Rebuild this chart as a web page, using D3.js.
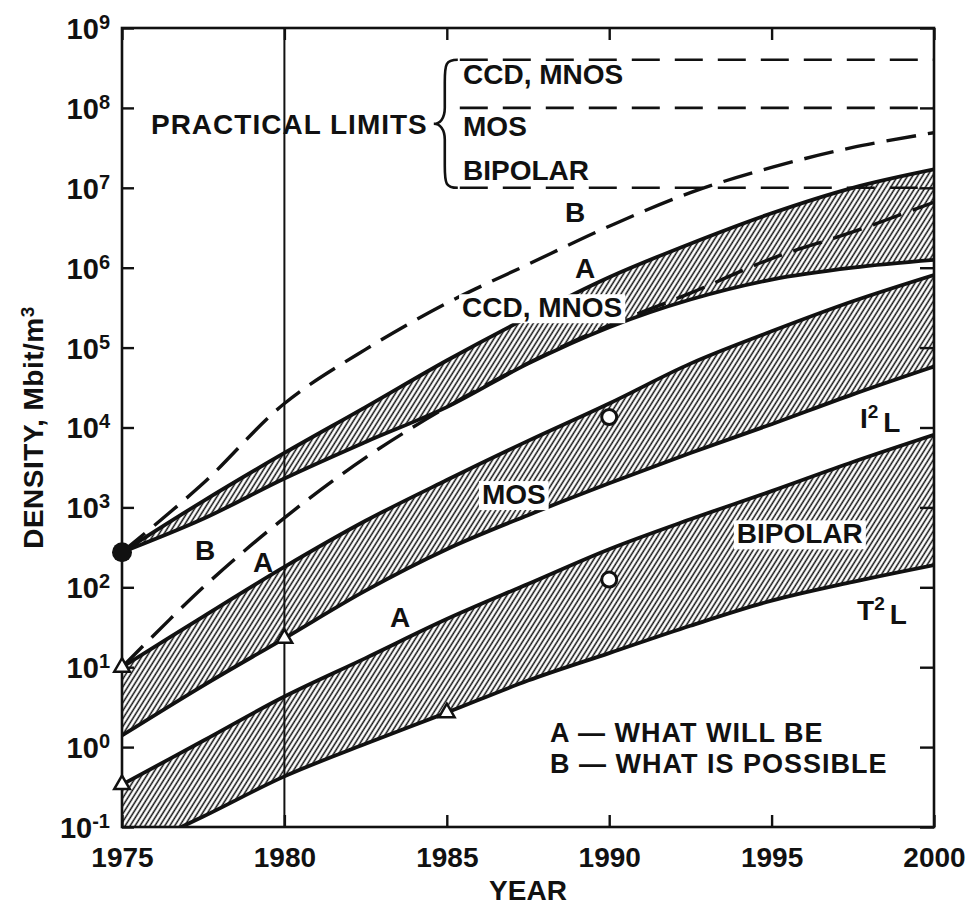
<!DOCTYPE html>
<html>
<head>
<meta charset="utf-8">
<script src="https://cdn.jsdelivr.net/npm/d3@7"></script>
<style>
  body { margin: 0; background: #fff; }
  text { font-family: "Liberation Sans", Arial, Helvetica, sans-serif; font-weight: bold; fill: #111; }
</style>
</head>
<body>
<script>
const years = [1975, 1977.5, 1980, 1982.5, 1985, 1987.5, 1990, 1992.5, 1995, 1997.5, 2000];

// CCD, MNOS band (A)
const ccdUpper = [275, 1.2e3, 4.8e3, 1.8e4, 6.9e4, 2.4e5, 7.6e5, 2.0e6, 4.8e6, 1.0e7, 1.7e7];
const ccdLower = [275, 720, 2.3e3, 6.6e3, 1.8e4, 6.3e4, 1.8e5, 4.0e5, 7.1e5, 1.0e6, 1.25e6];
// MOS band (A)
const mosUpper = [10, 43, 180, 680, 2.2e3, 6.8e3, 2.0e4, 6.3e4, 1.6e5, 3.8e5, 8.1e5];
const mosLower = [1.4, 5.9, 23, 91, 300, 800, 2.0e3, 4.8e3, 1.1e4, 2.6e4, 5.8e4];
// BIPOLAR band (A)
const bipUpper = [0.34, 1.2, 4.3, 13, 40, 110, 300, 710, 1.6e3, 3.7e3, 8.1e3];
const bipLower = [0.045, 0.135, 0.43, 1.1, 2.7, 6.8, 15, 33, 68, 117, 190];
// what is possible (B), dashed
const possibleCcd = [275, 2.0e3, 2.0e4, 9.5e4, 3.6e5, 1.1e6, 3.3e6, 8.7e6, 1.8e7, 3.2e7, 4.9e7];
const possibleMos = [10, 100, 740, 4.2e3, 1.8e4, 6.4e4, 1.9e5, 4.8e5, 1.3e6, 2.8e6, 6.6e6];

// practical limits (horizontal dashed lines)
const limitNames = ["CCD, MNOS", "MOS", "BIPOLAR"];
const limitValues = [4e8, 1e8, 1e7];
const limitsFrom = 1985.4;

// markers
const filledDots = [[1975, 275]];
const triangles = [[1975, 10], [1975, 0.34], [1980, 23], [1985, 2.7]];
const openCircles = [[1990, 1.35e4], [1990, 125]];

// axes
const xTicks = [1975, 1980, 1985, 1990, 1995, 2000];
const yTicks = [1e-1, 1e0, 1e1, 1e2, 1e3, 1e4, 1e5, 1e6, 1e7, 1e8, 1e9];
const yTickExp = ["-1", "0", "1", "2", "3", "4", "5", "6", "7", "8", "9"];

// text annotations: [text, superscript, rest, year, value, boxed]
const notes = [
  [limitNames[0], "", "", 1985.5, 2.0e8, false],
  [limitNames[1], "", "", 1985.5, 4.4e7, false],
  [limitNames[2], "", "", 1985.5, 1.26e7, false],
  ["B", "", "", 1988.64, 3.7e6, false],
  ["A", "", "", 1988.95, 7.4e5, false],
  ["CCD, MNOS", "", "", 1985.47, 2.4e5, true],
  ["MOS", "", "", 1986.08, 1.1e3, true],
  ["BIPOLAR", "", "", 1993.93, 355, true],
  ["I", "2", "L", 1997.72, 1e4, false],
  ["T", "2", "L", 1997.63, 39, false],
  ["B", "", "", 1977.25, 220, false],
  ["A", "", "", 1979.03, 155, false],
  ["A", "", "", 1983.25, 32, false]
];
const legend = ["A \u2014 WHAT WILL BE", "B \u2014 WHAT IS POSSIBLE"];
const legendAt = [[1988.18, 1.15], [1988.18, 0.47]];

/* ---------------------------------------------------------------- */
const W = 969, H = 906;
const margin = { top: 28, right: 35, bottom: 79, left: 122 };

const svg = d3.select("body").append("svg")
  .attr("width", W).attr("height", H);

const x = d3.scaleLinear().domain([1975, 2000]).range([margin.left, W - margin.right]);
const y = d3.scaleLog().domain([0.1, 1e9]).range([H - margin.bottom, margin.top]);

const defs = svg.append("defs");
defs.append("clipPath").attr("id", "plot")
  .append("rect")
  .attr("x", x(1975)).attr("y", y(1e9))
  .attr("width", x(2000) - x(1975)).attr("height", y(0.1) - y(1e9));

// diagonal hatching
defs.append("pattern")
  .attr("id", "hatch")
  .attr("patternUnits", "userSpaceOnUse")
  .attr("width", 4.2).attr("height", 10)
  .attr("patternTransform", "rotate(32)")
  .append("line")
  .attr("x1", 2).attr("y1", 0).attr("x2", 2).attr("y2", 10)
  .attr("stroke", "#111").attr("stroke-width", 1.5);

const plot = svg.append("g").attr("clip-path", "url(#plot)");

const curve = d3.curveCatmullRom.alpha(0.5);

// hatched bands
const bands = [[ccdUpper, ccdLower], [mosUpper, mosLower], [bipUpper, bipLower]];
const area = d3.area()
  .x(d => x(d[0]))
  .y0(d => y(d[2]))
  .y1(d => y(d[1]))
  .curve(curve);

plot.selectAll(".band")
  .data(bands)
  .join("path")
  .attr("class", "band")
  .attr("d", b => area(years.map((yr, i) => [yr, b[0][i], b[1][i]])))
  .attr("fill", "url(#hatch)");

const line = d3.line()
  .x(d => x(d[0]))
  .y(d => y(d[1]))
  .curve(curve);

// band edges
const solid = [ccdUpper, ccdLower, mosUpper, mosLower, bipUpper, bipLower];
plot.selectAll(".edge")
  .data(solid)
  .join("path")
  .attr("class", "edge")
  .attr("d", s => line(years.map((yr, i) => [yr, s[i]])))
  .attr("fill", "none")
  .attr("stroke", "#111")
  .attr("stroke-width", 3.8);

// dashed B curves
plot.selectAll(".possible")
  .data([possibleCcd, possibleMos])
  .join("path")
  .attr("class", "possible")
  .attr("d", s => line(years.map((yr, i) => [yr, s[i]])))
  .attr("fill", "none")
  .attr("stroke", "#111")
  .attr("stroke-width", 3.4)
  .attr("stroke-dasharray", "30 12");

// practical limits
plot.selectAll(".limit")
  .data(limitValues)
  .join("line")
  .attr("class", "limit")
  .attr("x1", x(limitsFrom)).attr("x2", x(2000))
  .attr("y1", d => y(d)).attr("y2", d => y(d))
  .attr("stroke", "#111")
  .attr("stroke-width", 2.6)
  .attr("stroke-dasharray", "28 15");

// brace
const bTop = y(limitValues[0]), bBot = y(limitValues[2]), bMid = (bTop + bBot) / 2;
const bx = x(limitsFrom) - 2;
svg.append("path")
  .attr("d", `M${bx},${bTop} C${bx - 12},${bTop} ${bx - 13},${bTop + 4} ${bx - 13},${bTop + 22}
              L${bx - 13},${bMid - 16} C${bx - 13},${bMid - 5} ${bx - 18},${bMid} ${bx - 24},${bMid}
              C${bx - 18},${bMid} ${bx - 13},${bMid + 5} ${bx - 13},${bMid + 16}
              L${bx - 13},${bBot - 22} C${bx - 13},${bBot - 4} ${bx - 12},${bBot} ${bx},${bBot}`)
  .attr("fill", "none").attr("stroke", "#111").attr("stroke-width", 2.6);

svg.append("text")
  .attr("x", bx - 30).attr("y", bMid + 10)
  .attr("text-anchor", "end")
  .style("font-size", "28px")
  .style("letter-spacing", "1px")
  .text("PRACTICAL LIMITS");

// 1980 vertical line
svg.append("line")
  .attr("x1", x(1980)).attr("x2", x(1980))
  .attr("y1", y(1e9)).attr("y2", y(0.1))
  .attr("stroke", "#111").attr("stroke-width", 2);

/* AXES ------------------------------------------------------------ */
const gx = svg.append("g")
  .attr("transform", `translate(0,${y(0.1)})`)
  .call(d3.axisBottom(x).tickValues(xTicks).tickFormat(d3.format("d")).tickSize(-12).tickPadding(20));
gx.select(".domain").remove();
gx.selectAll("text").style("font-size", "28px").attr("font-family", null).style("fill", "#111");

svg.append("g")
  .attr("transform", `translate(0,${y(1e9)})`)
  .call(d3.axisTop(x).tickValues(xTicks).tickFormat("").tickSize(-12))
  .select(".domain").remove();

const gy = svg.append("g")
  .attr("transform", `translate(${x(1975)},0)`)
  .call(d3.axisLeft(y).tickValues(yTicks).tickFormat("").tickSize(-12).tickPadding(12));
gy.select(".domain").remove();
gy.selectAll(".tick text").each(function (d, i) {
  const t = d3.select(this).style("font-size", "29px").attr("dy", "0.36em");
  t.append("tspan").text("10");
  t.append("tspan").attr("dy", "-0.5em").style("font-size", "20px").text(yTickExp[i]);
});

svg.append("g")
  .attr("transform", `translate(${x(2000)},0)`)
  .call(d3.axisRight(y).tickValues(yTicks).tickFormat("").tickSize(-14))
  .select(".domain").remove();

svg.selectAll(".tick line").attr("stroke", "#111").attr("stroke-width", 2.4);

// frame
svg.append("rect")
  .attr("x", x(1975)).attr("y", y(1e9))
  .attr("width", x(2000) - x(1975)).attr("height", y(0.1) - y(1e9))
  .attr("fill", "none").attr("stroke", "#111").attr("stroke-width", 2.6);

// axis titles
svg.append("text")
  .attr("x", (x(1975) + x(2000)) / 2).attr("y", 900)
  .attr("text-anchor", "middle")
  .style("font-size", "28px")
  .text("YEAR");

const yTitle = svg.append("text")
  .attr("transform", `translate(43,${(y(0.1) + y(1e9)) / 2}) rotate(-90)`)
  .attr("text-anchor", "middle")
  .style("font-size", "28px")
  .style("letter-spacing", "0.5px");
yTitle.append("tspan").text("DENSITY, Mbit/m");
yTitle.append("tspan").attr("dy", "-0.5em").style("font-size", "19px").text("3");

/* MARKERS ---------------------------------------------------------- */
svg.selectAll(".dot")
  .data(filledDots)
  .join("circle")
  .attr("cx", d => x(d[0])).attr("cy", d => y(d[1]))
  .attr("r", 10).attr("fill", "#111");

svg.selectAll(".tri")
  .data(triangles)
  .join("path")
  .attr("transform", d => `translate(${x(d[0])},${y(d[1])})`)
  .attr("d", d3.symbol(d3.symbolTriangle).size(105))
  .attr("fill", "#fff").attr("stroke", "#111").attr("stroke-width", 2.5);

svg.selectAll(".ring")
  .data(openCircles)
  .join("circle")
  .attr("cx", d => x(d[0])).attr("cy", d => y(d[1]))
  .attr("r", 7.5).attr("fill", "#fff").attr("stroke", "#111").attr("stroke-width", 3);

/* LABELS ----------------------------------------------------------- */
notes.forEach(n => {
  const g = svg.append("g");
  const t = g.append("text")
    .attr("x", x(n[3])).attr("y", y(n[4]))
    .style("font-size", "28px");
  t.append("tspan").text(n[0]);
  if (n[1]) {
    t.append("tspan").attr("dy", "-0.5em").style("font-size", "19px").text(n[1]);
    t.append("tspan").attr("dy", "0.5em").attr("dx", "5").text(n[2]);
  }
  if (n[5]) {
    const bb = t.node().getBBox();
    g.insert("rect", "text")
      .attr("x", bb.x - 3).attr("y", bb.y + 2)
      .attr("width", bb.width + 6).attr("height", bb.height - 2)
      .attr("fill", "#fff");
  }
});

svg.selectAll(".legend")
  .data(legend)
  .join("text")
  .attr("x", (d, i) => x(legendAt[i][0]))
  .attr("y", (d, i) => y(legendAt[i][1]))
  .style("font-size", "27px")
  .style("letter-spacing", "1px")
  .text(d => d);
</script>
</body>
</html>
